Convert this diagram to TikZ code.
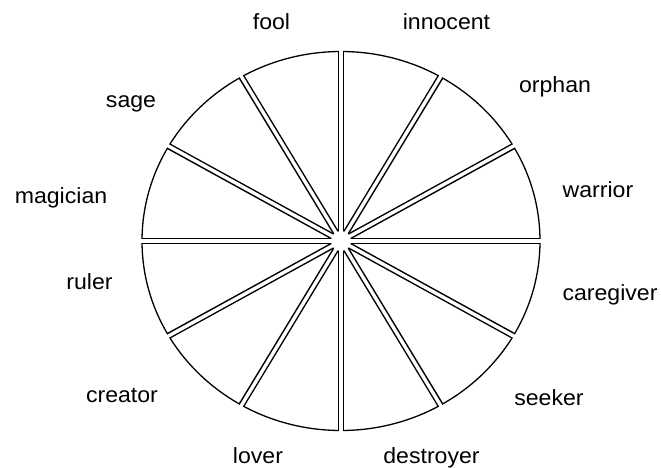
\documentclass[tikz,border=0pt]{standalone}
\usepackage{graphicx}
\usepackage{fontspec}
\setmainfont{Liberation Sans}
\newcommand\lab[1]{\scalebox{1.05}[1]{#1}}
\begin{document}
\begin{tikzpicture}[x=1pt,y=1pt,
  lbl/.style={font=\fontsize{22}{26}\selectfont, anchor=base, inner sep=0pt},
  rim/.style={line width=1.3pt},
  spokeout/.style={line width=6.4pt},
  spokein/.style={white, line width=3.4pt}]
\useasboundingbox (0,0) rectangle (661,-468);
\coordinate (c) at (341,-241);
\draw[rim] (c) ellipse [x radius=199pt, y radius=189.5pt];
\foreach \a in {0,30,...,330} \draw[spokeout] (c) -- ++(\a:199pt and 189.5pt);
\foreach \a in {0,30,...,330} \draw[spokein] (c) -- ++(\a:203pt and 193.5pt);
\fill[white] (c) circle (10pt);
\node[lbl] (fool) at (271.5,-30) {\lab{fool}};
\node[lbl] (innocent) at (446.5,-30) {\lab{innocent}};
\node[lbl] (orphan) at (555,-93) {\lab{orphan}};
\node[lbl] (warrior) at (598,-197) {\lab{warrior}};
\node[lbl] (caregiver) at (610,-300) {\lab{caregiver}};
\node[lbl] (seeker) at (549,-405) {\lab{seeker}};
\node[lbl] (destroyer) at (431.5,-463) {\lab{destroyer}};
\node[lbl] (lover) at (258,-463) {\lab{lover}};
\node[lbl] (creator) at (122,-402) {\lab{creator}};
\node[lbl] (ruler) at (89.5,-289) {\lab{ruler}};
\node[lbl] (magician) at (61,-203) {\lab{magician}};
\node[lbl] (sage) at (131,-108) {\lab{sage}};
\end{tikzpicture}
\end{document}
